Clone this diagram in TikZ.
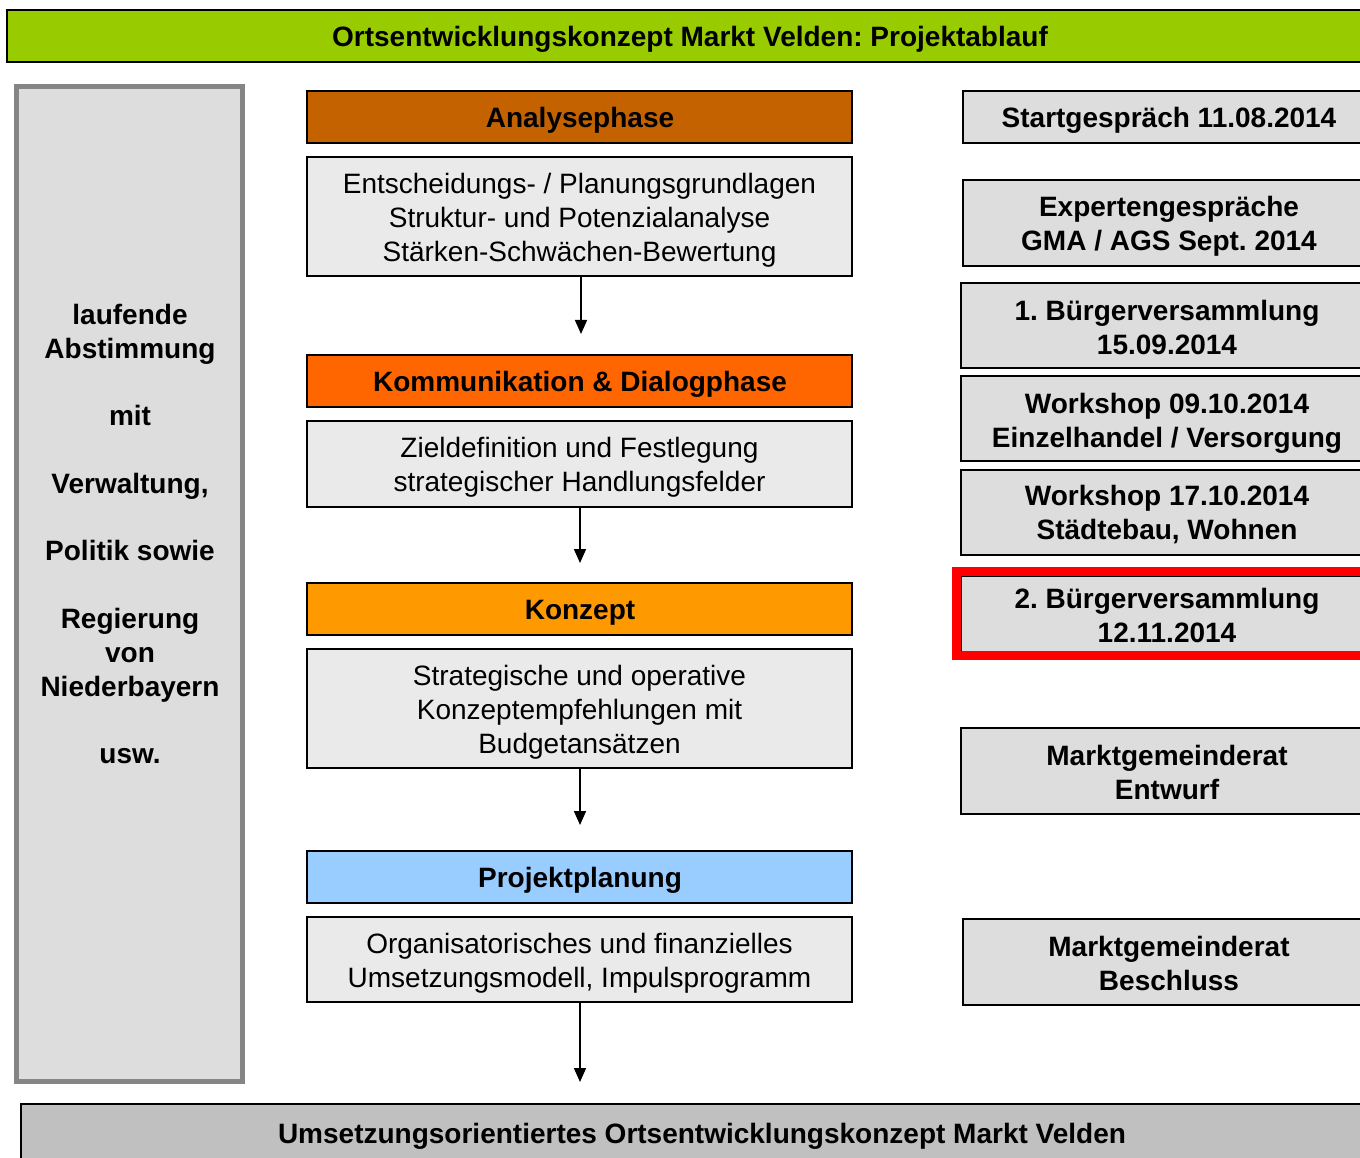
\documentclass[tikz,border=0pt]{standalone}
\usepackage{fontspec}
\setmainfont{Liberation Sans}
\usetikzlibrary{arrows.meta}
\frenchspacing
\definecolor{banner}{HTML}{99CC00}
\definecolor{leftfill}{HTML}{DDDDDD}
\definecolor{leftline}{HTML}{858585}
\definecolor{textfill}{HTML}{EAEAEA}
\definecolor{rightfill}{HTML}{DDDDDD}
\definecolor{bottomfill}{HTML}{C0C0C0}
\definecolor{phaseA}{HTML}{C46200}
\definecolor{phaseB}{HTML}{FF6600}
\definecolor{phaseC}{HTML}{FF9900}
\definecolor{phaseD}{HTML}{99CCFF}
\definecolor{redframe}{HTML}{FF0000}
\tikzset{
  x=1pt, y=-1pt,
  every node/.style={inner sep=0pt, outer sep=0pt, align=center,
    font=\fontsize{28}{34}\selectfont},
  boldtext/.style={font=\fontsize{28}{34}\selectfont\bfseries},
  phasebox/.style={draw=black, line width=1.5pt, minimum width=545pt, minimum height=52pt},
  descbox/.style={draw=black, line width=1.5pt, fill=textfill, minimum width=545pt},
  datebox/.style={draw=black, line width=1.5pt, fill=rightfill, minimum width=412pt},
  flowarrow/.style={draw=black, line width=1.5pt, -{Triangle[length=14pt,width=12pt]}},
}
\begin{document}
\begin{tikzpicture}
\useasboundingbox (0,0) rectangle (1360,1158);
\clip (0,0) rectangle (1360,1158);
\fill[white] (0,0) rectangle (1360,1158);

% title banner
\node[draw=black, line width=2pt, fill=banner, minimum width=1366pt, minimum height=52pt] (title) at (690,36) {};
\node[boldtext] (titletext) at (690,39) {Ortsentwicklungskonzept Markt Velden: Projektablauf};

% left box
\node[draw=leftline, line width=4.5pt, fill=leftfill, minimum width=226pt, minimum height=995pt] (left) at (129.6,584.1) {};
\node[boldtext] (lefttext) at (130,534) {laufende\\Abstimmung\\[33.5pt]mit\\[33.5pt]Verwaltung,\\[33.5pt]Politik sowie\\[33.5pt]Regierung\\von\\Niederbayern\\[33.5pt]usw.};

% center column
\node[phasebox, fill=phaseA] (p1) at (579.5,117) {};
\node[boldtext] (p1t) at (580,120) {Analysephase};
\node[descbox, minimum height=119pt] (d1) at (579.5,216.5) {};
\node (d1t) at (579.5,220) {Entscheidungs- / Planungsgrundlagen\\Struktur- und Potenzialanalyse\\Stärken-Schwächen-Bewertung};
\node[phasebox, fill=phaseB] (p2) at (579.5,381) {};
\node[boldtext] (p2t) at (580,384) {Kommunikation \& Dialogphase};
\node[descbox, minimum height=86pt] (d2) at (579.5,464) {};
\node (d2t) at (579.5,467) {Zieldefinition und Festlegung\\strategischer Handlungsfelder};
\node[phasebox, fill=phaseC] (p3) at (579.5,609) {};
\node[boldtext] (p3t) at (580,612.5) {Konzept};
\node[descbox, minimum height=119pt] (d3) at (579.5,708.5) {};
\node (d3t) at (579.5,712) {Strategische und operative\\Konzeptempfehlungen mit\\Budgetansätzen};
\node[phasebox, fill=phaseD] (p4) at (579.5,877) {};
\node[boldtext] (p4t) at (580,880) {Projektplanung};
\node[descbox, minimum height=85pt] (d4) at (579.5,959.5) {};
\node (d4t) at (579.5,963) {Organisatorisches und finanzielles\\Umsetzungsmodell, Impulsprogramm};

\coordinate (a1e) at (581,334);
\coordinate (a2e) at (580,563);
\coordinate (a3e) at (580,825);
\coordinate (a4e) at (580,1082);
\draw[flowarrow] (d1.south -| a1e) -- (a1e);
\draw[flowarrow] (d2.south -| a2e) -- (a2e);
\draw[flowarrow] (d3.south -| a3e) -- (a3e);
\draw[flowarrow] (d4.south -| a4e) -- (a4e);

% right column
\node[datebox, minimum height=52pt] (r1) at (1169,117) {};
\node[boldtext] (r1t) at (1169,120) {Startgespräch 11.08.2014};
\node[datebox, minimum height=86pt] (r2) at (1169,223) {};
\node[boldtext] (r2t) at (1169,226) {Expertengespräche\\GMA / AGS Sept. 2014};
\node[datebox, minimum height=85pt] (r3) at (1167,325.5) {};
\node[boldtext] (r3t) at (1167,327) {1. Bürgerversammlung\\15.09.2014};
\node[datebox, minimum height=85pt] (r4) at (1167,418.5) {};
\node[boldtext] (r4t) at (1167,423) {Workshop 09.10.2014\\Einzelhandel / Versorgung};
\node[datebox, minimum height=85pt] (r5) at (1167,512.5) {};
\node[boldtext] (r5t) at (1167,514.5) {Workshop 17.10.2014\\Städtebau, Wohnen};
\node[datebox, minimum height=76pt] (r6) at (1167,614.5) {};
\node[boldtext] (r6t) at (1167,615.5) {2. Bürgerversammlung\\12.11.2014};
\draw[redframe, line width=8.5pt] (956.5,571.5) rectangle (1390,655.5);
\node[datebox, minimum height=86pt] (r7) at (1167,771) {};
\node[boldtext] (r7t) at (1167,772) {Marktgemeinderat\\Entwurf};
\node[datebox, minimum height=86pt] (r8) at (1169,962) {};
\node[boldtext] (r8t) at (1169,963) {Marktgemeinderat\\Beschluss};

% bottom box
\node[draw=black, line width=2pt, fill=bottomfill, minimum width=1364pt, minimum height=80pt, anchor=north west] (bottom) at (21,1104) {};
\node[boldtext] (bottomtext) at (702,1136) {Umsetzungsorientiertes Ortsentwicklungskonzept Markt Velden};
\end{tikzpicture}
\end{document}
